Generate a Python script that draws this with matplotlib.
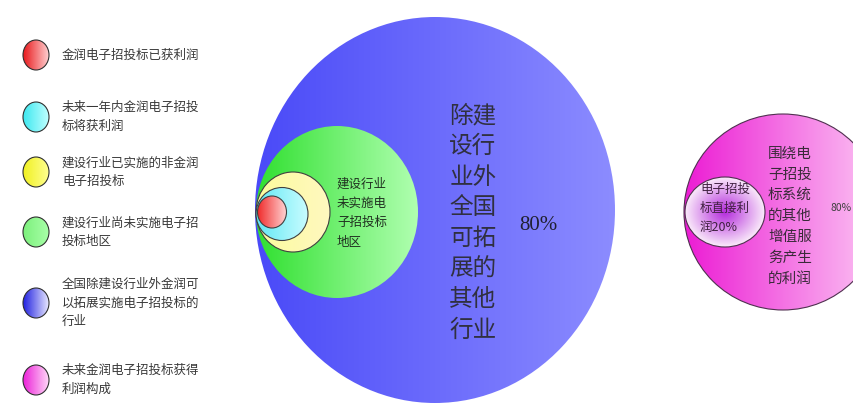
import numpy as np
import matplotlib
matplotlib.use("Agg")
import matplotlib.pyplot as plt
from matplotlib.patches import Ellipse
from matplotlib.colors import to_rgb

plt.rcParams['font.family'] = ['Noto Sans CJK SC', 'DejaVu Sans']

# DATA
legend_labels = [
    "金润电子招投标已获利润",
    "未来一年内金润电子招投\n标将获利润",
    "建设行业已实施的非金润\n电子招投标",
    "建设行业尚未实施电子招\n投标地区",
    "全国除建设行业外金润可\n以拓展实施电子招投标的\n行业",
    "未来金润电子招投标获得\n利润构成",
]
legend_left = ["#e8181c", "#3ce8f0", "#f0f020", "#7cf07c", "#2020e0", "#ec20d8"]
legend_right = ["#ffd0d0", "#c0ffff", "#ffff90", "#a8ffa8", "#e8e8ff", "#ffd8f8"]

green_label = "建设行业\n未实施电\n子招投标\n地区"
blue_label = "除建\n设行\n业外\n全国\n可拓\n展的\n其他\n行业"
blue_share = "80%"
pink_inner_label = "电子招投\n标直接利\n润20%"
pink_outer_label = "围绕电\n子招投\n标系统\n的其他\n增值服\n务产生\n的利润"
pink_share = "80%"

# nested circles (pixel layout): centre x, centre y, width, height
nest_cx = [435, 337, 293, 282, 272]
nest_cy = [210, 212, 212, 214, 212]
nest_w = [360, 162, 74, 52, 29]
nest_h = [386, 172, 80, 53, 32]
nest_left = ["#4a4af8", "#30e030", "#fcfc9c", "#60e8f4", "#f02828"]
nest_right = ["#8c8cff", "#b0ffb0", "#fff8c0", "#c8fcff", "#ffd0d0"]
nest_edge = [None, None, "#404040", "#404040", "#404040"]

pink_cx = [783, 725]
pink_cy = [212, 212]
pink_w = [198, 80]
pink_h = [196, 70]


def grad_ellipse(ax, cx, cy, w, h, c1, c2, edge=None, z=1, radial=False):
    n = 200
    a = np.array(to_rgb(c1))
    b = np.array(to_rgb(c2))
    if radial:
        xx, yy = np.meshgrid(np.linspace(-1, 1, n), np.linspace(-1, 1, n))
        t = np.clip(np.sqrt(xx ** 2 + yy ** 2), 0, 1)[..., None]
        img = a * (1 - t) + b * t
    else:
        t = np.linspace(0, 1, n)[None, :, None]
        img = a * (1 - t) + b * t
    im = ax.imshow(img, extent=(cx - w / 2, cx + w / 2, cy + h / 2, cy - h / 2),
                   aspect='auto', zorder=z, interpolation='bilinear')
    patch = Ellipse((cx, cy), w, h, facecolor='none',
                    edgecolor=edge if edge else 'none', lw=0.8, zorder=z + 0.5)
    ax.add_patch(patch)
    im.set_clip_path(patch)


fig = plt.figure(figsize=(8.54, 4.03), dpi=100)
ax = fig.add_axes([0, 0, 1, 1])

# legend
leg_y = [55, 117, 172, 232, 303, 380]
for i, lab in enumerate(legend_labels):
    grad_ellipse(ax, 36, leg_y[i], 26, 30, legend_left[i], legend_right[i],
                 edge="#303030", z=5)
    ax.text(62, leg_y[i], lab, fontsize=9, color="#383838", va='center',
            ha='left', linespacing=1.55)

# nested circles
for i in range(len(nest_cx)):
    grad_ellipse(ax, nest_cx[i], nest_cy[i], nest_w[i], nest_h[i],
                 nest_left[i], nest_right[i], edge=nest_edge[i], z=1 + i)

ax.text(337, 213, green_label, fontsize=9, color="#203020", va='center',
        ha='left', linespacing=1.65, zorder=10)
ax.text(473, 223, blue_label, fontsize=17, color="#303040", va='center',
        ha='center', linespacing=1.42, zorder=10)
ax.text(538, 226, blue_share, fontsize=15, color="#202030", va='center',
        ha='center', family='Liberation Serif', zorder=10)

# profit circles
grad_ellipse(ax, pink_cx[0], pink_cy[0], pink_w[0], pink_h[0],
             "#ec1cd4", "#fcc8f4", edge="#503050", z=1)
grad_ellipse(ax, pink_cx[1], pink_cy[1], pink_w[1], pink_h[1],
             "#b42cdc", "#faeafa", edge="#503050", z=2, radial=True)

ax.text(700, 208, pink_inner_label, fontsize=9, color="#402040", va='center',
        ha='left', linespacing=1.6, zorder=10)
ax.text(768, 216, pink_outer_label, fontsize=10.5, color="#3a2a3a", va='center',
        ha='left', linespacing=1.62, zorder=10)
ax.text(852, 208, pink_share, fontsize=7.5, color="#404040", va='center',
        ha='right', zorder=10)

ax.set_xlim(0, 854)
ax.set_ylim(403, 0)
ax.axis('off')

plt.savefig("out.png", dpi=100)
